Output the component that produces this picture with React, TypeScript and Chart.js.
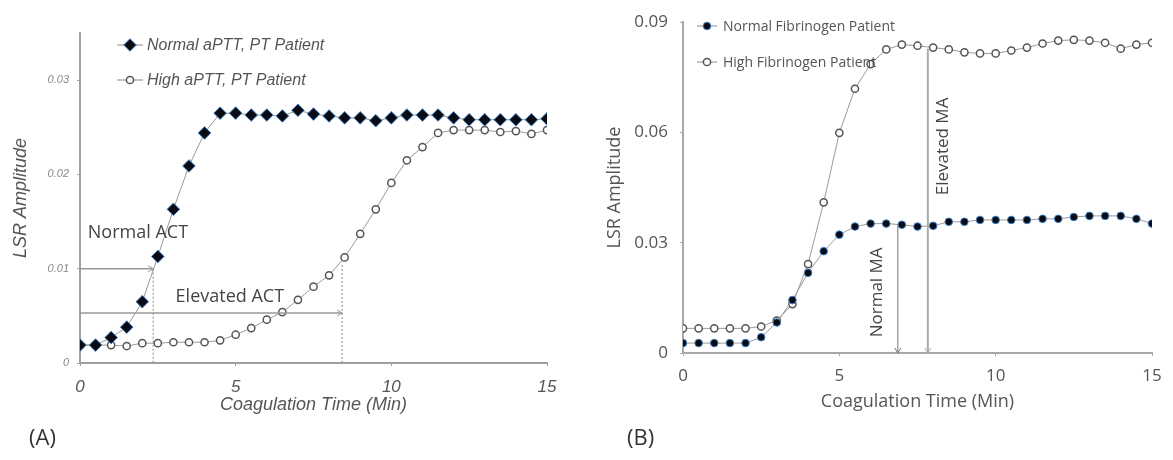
import React, { useEffect, useRef } from 'react';
import { Chart, registerables } from 'chart.js';

Chart.register(...registerables);

// ---------- data ----------
const timeA = [0, 0.5, 1, 1.5, 2, 2.5, 3, 3.5, 4, 4.5, 5, 5.5, 6, 6.5, 7, 7.5, 8, 8.5, 9, 9.5, 10, 10.5, 11, 11.5, 12, 12.5, 13, 13.5, 14, 14.5, 15];
const normalA = [0.0019, 0.0019, 0.0027, 0.0038, 0.0065, 0.0113, 0.0163, 0.0209, 0.0244, 0.0265, 0.0265, 0.0263, 0.0263, 0.0262, 0.0268, 0.0264, 0.0262, 0.026, 0.026, 0.0257, 0.026, 0.0263, 0.0263, 0.0263, 0.026, 0.0258, 0.0258, 0.0258, 0.0258, 0.0258, 0.0259];
const highA = [0.0019, 0.0019, 0.0019, 0.0018, 0.0021, 0.0021, 0.0022, 0.0022, 0.0022, 0.0024, 0.003, 0.0037, 0.0046, 0.0054, 0.0067, 0.0081, 0.0093, 0.0112, 0.0137, 0.0163, 0.0191, 0.0215, 0.0229, 0.0244, 0.0247, 0.0247, 0.0247, 0.0245, 0.0246, 0.0243, 0.0247];

const timeB = [0, 0.5, 1, 1.5, 2, 2.5, 3, 3.5, 4, 4.5, 5, 5.5, 6, 6.5, 7, 7.5, 8, 8.5, 9, 9.5, 10, 10.5, 11, 11.5, 12, 12.5, 13, 13.5, 14, 14.5, 15];
const normalB = [0.0027, 0.0027, 0.0027, 0.0027, 0.0027, 0.0043, 0.0083, 0.0144, 0.0218, 0.0277, 0.0322, 0.0344, 0.0352, 0.0352, 0.0349, 0.0344, 0.0346, 0.0357, 0.0357, 0.0362, 0.0362, 0.0362, 0.0362, 0.0365, 0.0365, 0.037, 0.0373, 0.0373, 0.0373, 0.0365, 0.0352];
const highB = [0.0067, 0.0067, 0.0067, 0.0067, 0.0067, 0.0072, 0.0088, 0.0133, 0.0242, 0.041, 0.0599, 0.0719, 0.0786, 0.0826, 0.0839, 0.0836, 0.0831, 0.0826, 0.0818, 0.0815, 0.0815, 0.0823, 0.0831, 0.0842, 0.085, 0.0852, 0.085, 0.0844, 0.0828, 0.0839, 0.0844];

const xTicks = [0, 5, 10, 15];
const yTicksA = [0, 0.01, 0.02, 0.03];
const yTicksB = [0, 0.03, 0.06, 0.09];

const seriesNamesA = ['Normal aPTT, PT Patient', 'High aPTT, PT Patient'];
const seriesNamesB = ['Normal Fibrinogen Patient', 'High Fibrinogen Patient'];

// clotting time markers (time in min, amplitude level)
const actLabels = ['Normal ACT', 'Elevated ACT'];
const actTimes = [2.35, 8.42];
const actLevels = [0.01, 0.0053];
const actTops = [0.01, 0.0104];

const maLabels = ['Normal MA', 'Elevated MA'];
const maTimes = [6.87, 7.83];
const maLevels = [0.0352, 0.0828];

const SANS = '"Liberation Sans", Arial, sans-serif';
const HUM = '"Open Sans", "Noto Sans", sans-serif';

// ---------- helpers ----------
function drawMarker(ctx: CanvasRenderingContext2D, kind: string, x: number, y: number) {
  ctx.save();
  ctx.setLineDash([]);
  if (kind === 'diamond') {
    const r = 6.3;
    ctx.beginPath();
    ctx.moveTo(x, y - r);
    ctx.lineTo(x + r, y);
    ctx.lineTo(x, y + r);
    ctx.lineTo(x - r, y);
    ctx.closePath();
    ctx.fillStyle = '#0b0b14';
    ctx.fill();
    ctx.strokeStyle = '#3b7fc4';
    ctx.lineWidth = 1;
    ctx.stroke();
  } else if (kind === 'dot') {
    ctx.beginPath();
    ctx.arc(x, y, 3.8, 0, Math.PI * 2);
    ctx.fillStyle = '#0b0b14';
    ctx.fill();
    ctx.strokeStyle = '#3b7fc4';
    ctx.lineWidth = 1;
    ctx.stroke();
  } else {
    ctx.beginPath();
    ctx.arc(x, y, 3.6, 0, Math.PI * 2);
    ctx.fillStyle = '#ffffff';
    ctx.fill();
    ctx.strokeStyle = '#555';
    ctx.lineWidth = 1.5;
    ctx.stroke();
  }
  ctx.restore();
}

function arrowHead(ctx: CanvasRenderingContext2D, x: number, y: number, dir: 'right' | 'down', color: string) {
  ctx.save();
  ctx.setLineDash([]);
  ctx.strokeStyle = color;
  ctx.lineWidth = 1;
  ctx.beginPath();
  if (dir === 'right') {
    ctx.moveTo(x - 5, y - 3);
    ctx.lineTo(x, y);
    ctx.lineTo(x - 5, y + 3);
  } else {
    ctx.moveTo(x - 3, y - 5);
    ctx.lineTo(x, y);
    ctx.lineTo(x + 3, y - 5);
  }
  ctx.stroke();
  ctx.restore();
}

const decorPlugin = {
  id: 'decor',
  afterDatasetsDraw(chart: any, _args: any, opts: any) {
    const ctx: CanvasRenderingContext2D = chart.ctx;
    const xs = chart.scales.x;
    const ys = chart.scales.y;
    ctx.save();
    (opts.lines || []).forEach((l: any) => {
      const x1 = xs.getPixelForValue(l.x1);
      const x2 = xs.getPixelForValue(l.x2);
      const y1 = ys.getPixelForValue(l.y1);
      const y2 = ys.getPixelForValue(l.y2);
      ctx.strokeStyle = l.color;
      ctx.lineWidth = l.width;
      ctx.setLineDash(l.dash || []);
      ctx.beginPath();
      ctx.moveTo(x1, y1);
      ctx.lineTo(x2, y2);
      ctx.stroke();
      if (l.arrow) arrowHead(ctx, x2, y2, l.arrow, l.color);
    });
    ctx.setLineDash([]);
    (opts.texts || []).forEach((t: any) => {
      const x = xs.getPixelForValue(t.x);
      const y = ys.getPixelForValue(t.y);
      ctx.save();
      ctx.translate(x, y);
      ctx.rotate(t.rotate || 0);
      ctx.font = t.font;
      ctx.fillStyle = t.color;
      ctx.textAlign = t.align || 'left';
      ctx.textBaseline = 'middle';
      ctx.fillText(t.text, 0, 0);
      ctx.restore();
    });
    const lg = opts.legend;
    if (lg) {
      lg.items.forEach((it: any, i: number) => {
        const y = lg.y + i * lg.gap;
        ctx.strokeStyle = '#8a8a8a';
        ctx.lineWidth = 1;
        ctx.beginPath();
        ctx.moveTo(lg.x1, y);
        ctx.lineTo(lg.x2, y);
        ctx.stroke();
        drawMarker(ctx, it.marker, (lg.x1 + lg.x2) / 2, y);
        ctx.font = lg.font;
        ctx.fillStyle = lg.color;
        ctx.textAlign = 'left';
        ctx.textBaseline = 'middle';
        ctx.fillText(it.text, lg.tx, y + 1);
      });
    }
    ctx.restore();
  },
};

function pts(t: number[], v: number[]) {
  return t.map((x, i) => ({ x, y: v[i] }));
}

function axisCommon(color: string) {
  return {
    grid: { display: true, drawOnChartArea: false, drawTicks: true, tickLength: 3, color: color, lineWidth: 1 },
    border: { display: true, color: color, width: 2 },
  };
}

function makeConfigA(): any {
  return {
    type: 'scatter',
    data: {
      datasets: [
        {
          label: seriesNamesA[0],
          data: pts(timeA, normalA),
          showLine: true,
          borderColor: '#9a9a9a',
          borderWidth: 1,
          pointStyle: 'rectRot',
          pointRadius: 6.3,
          pointBackgroundColor: '#0b0b14',
          pointBorderColor: '#3b7fc4',
          pointBorderWidth: 1,
        },
        {
          label: seriesNamesA[1],
          data: pts(timeA, highA),
          showLine: true,
          borderColor: '#9a9a9a',
          borderWidth: 1,
          pointStyle: 'circle',
          pointRadius: 3.6,
          pointBackgroundColor: '#ffffff',
          pointBorderColor: '#555',
          pointBorderWidth: 1.5,
        },
      ],
    },
    options: {
      animation: false,
      responsive: false,
      maintainAspectRatio: false,
      events: [],
      layout: { padding: { left: 0, right: 33, top: 33, bottom: 37 } },
      plugins: {
        legend: { display: false },
        tooltip: { enabled: false },
        decor: {
          lines: [
            { x1: 0, y1: actLevels[0], x2: actTimes[0], y2: actLevels[0], color: '#999', width: 1.5, arrow: 'right' },
            { x1: actTimes[0], y1: actTops[0], x2: actTimes[0], y2: 0, color: '#888', width: 1, dash: [2, 2] },
            { x1: 0, y1: actLevels[1], x2: actTimes[1], y2: actLevels[1], color: '#999', width: 1.5, arrow: 'right' },
            { x1: actTimes[1], y1: actTops[1], x2: actTimes[1], y2: 0, color: '#888', width: 1, dash: [2, 2] },
          ],
          texts: [
            { text: actLabels[0], x: 0.25, y: 0.0138, font: `18px ${HUM}`, color: '#444' },
            { text: actLabels[1], x: 3.07, y: 0.007, font: `18px ${HUM}`, color: '#444' },
          ],
          legend: {
            x1: 117, x2: 143, tx: 147, y: 45, gap: 35,
            font: `italic 16px ${SANS}`, color: '#555',
            items: [
              { text: seriesNamesA[0], marker: 'diamond' },
              { text: seriesNamesA[1], marker: 'ring' },
            ],
          },
        },
      },
      scales: {
        x: {
          type: 'linear',
          min: 0,
          max: 15,
          afterBuildTicks: (s: any) => { s.ticks = xTicks.map((v) => ({ value: v })); },
          afterFit: (s: any) => { s.height = 60; },
          ...axisCommon('#a0a0a0'),
          ticks: {
            font: { family: SANS, size: 17, style: 'italic' },
            color: '#555',
            padding: 11,
            maxRotation: 0,
            callback: (v: any) => String(v),
          },
          title: {
            display: true,
            text: 'Coagulation Time (Min)',
            font: { family: SANS, size: 18, style: 'italic' },
            color: '#555',
            padding: { top: 0, bottom: 7 },
          },
        },
        y: {
          type: 'linear',
          min: 0,
          max: 0.035,
          afterBuildTicks: (s: any) => { s.ticks = yTicksA.map((v) => ({ value: v })); },
          afterFit: (s: any) => { s.width = 80; },
          ...axisCommon('#a0a0a0'),
          ticks: {
            font: { family: SANS, size: 11, style: 'italic' },
            color: '#888',
            padding: 8,
            callback: (v: any) => (v === 0 ? '0' : Number(v).toFixed(2)),
          },
          title: {
            display: true,
            text: 'LSR Amplitude',
            font: { family: SANS, size: 18, style: 'italic' },
            color: '#555',
            padding: { top: 10, bottom: 0 },
          },
        },
      },
    },
    plugins: [decorPlugin],
  };
}

function makeConfigB(): any {
  return {
    type: 'scatter',
    data: {
      datasets: [
        {
          label: seriesNamesB[0],
          data: pts(timeB, normalB),
          showLine: true,
          borderColor: '#9a9a9a',
          borderWidth: 1,
          pointStyle: 'circle',
          pointRadius: 3.8,
          pointBackgroundColor: '#0b0b14',
          pointBorderColor: '#3b7fc4',
          pointBorderWidth: 1,
        },
        {
          label: seriesNamesB[1],
          data: pts(timeB, highB),
          showLine: true,
          borderColor: '#9a9a9a',
          borderWidth: 1,
          pointStyle: 'circle',
          pointRadius: 3.6,
          pointBackgroundColor: '#ffffff',
          pointBorderColor: '#555',
          pointBorderWidth: 1.5,
        },
      ],
    },
    options: {
      animation: false,
      responsive: false,
      maintainAspectRatio: false,
      events: [],
      layout: { padding: { left: 0, right: 21, top: 15, bottom: 47 } },
      plugins: {
        legend: { display: false },
        tooltip: { enabled: false },
        decor: {
          lines: [
            { x1: maTimes[0], y1: maLevels[0], x2: maTimes[0], y2: 0, color: '#777', width: 1, arrow: 'down' },
            { x1: maTimes[1], y1: maLevels[1], x2: maTimes[1], y2: 0, color: '#aaa', width: 2, arrow: 'down' },
          ],
          texts: [
            { text: maLabels[0], x: 6.2, y: 0.0165, font: `17px ${HUM}`, color: '#444', rotate: -Math.PI / 2, align: 'center' },
            { text: maLabels[1], x: 8.33, y: 0.0562, font: `17px ${HUM}`, color: '#444', rotate: -Math.PI / 2, align: 'center' },
          ],
          legend: {
            x1: 107, x2: 127, tx: 133, y: 26, gap: 36,
            font: `14px ${HUM}`, color: '#555',
            items: [
              { text: seriesNamesB[0], marker: 'dot' },
              { text: seriesNamesB[1], marker: 'ring' },
            ],
          },
        },
      },
      scales: {
        x: {
          type: 'linear',
          min: 0,
          max: 15,
          afterBuildTicks: (s: any) => { s.ticks = xTicks.map((v) => ({ value: v })); },
          afterFit: (s: any) => { s.height = 60; },
          ...axisCommon('#a8a8a8'),
          ticks: {
            font: { family: HUM, size: 17 },
            color: '#555',
            padding: 10,
            maxRotation: 0,
            callback: (v: any) => String(v),
          },
          title: {
            display: true,
            text: 'Coagulation Time (Min)',
            font: { family: HUM, size: 18 },
            color: '#555',
            padding: { top: 0, bottom: 0 },
          },
        },
        y: {
          type: 'linear',
          min: 0,
          max: 0.09,
          afterBuildTicks: (s: any) => { s.ticks = yTicksB.map((v) => ({ value: v })); },
          afterFit: (s: any) => { s.width = 93; },
          ...axisCommon('#a8a8a8'),
          ticks: {
            font: { family: HUM, size: 17 },
            color: '#555',
            padding: 12,
            callback: (v: any) => (v === 0 ? '0' : Number(v).toFixed(2)),
          },
          title: {
            display: true,
            text: 'LSR Amplitude',
            font: { family: HUM, size: 18 },
            color: '#555',
            padding: { top: 14, bottom: 0 },
          },
        },
      },
    },
    plugins: [decorPlugin],
  };
}

function Panel({ left, width, make }: { left: number; width: number; make: () => any }) {
  const ref = useRef<HTMLCanvasElement | null>(null);
  useEffect(() => {
    if (!ref.current) return;
    const chart = new Chart(ref.current, make());
    return () => chart.destroy();
  }, []);
  return (
    <canvas
      ref={ref}
      width={width}
      height={460}
      style={{ position: 'absolute', left, top: 0, width, height: 460 }}
    />
  );
}

export default function App() {
  return (
    <div style={{ position: 'absolute', left: 0, top: 0, width: 1173, height: 460, background: '#fff', overflow: 'hidden' }}>
      <Panel left={0} width={580} make={makeConfigA} />
      <Panel left={590} width={583} make={makeConfigB} />
      <div style={{ position: 'absolute', left: 29, top: 421, font: `22px ${HUM}`, color: '#333' }}>(A)</div>
      <div style={{ position: 'absolute', left: 627, top: 421, font: `22px ${HUM}`, color: '#333' }}>(B)</div>
    </div>
  );
}
